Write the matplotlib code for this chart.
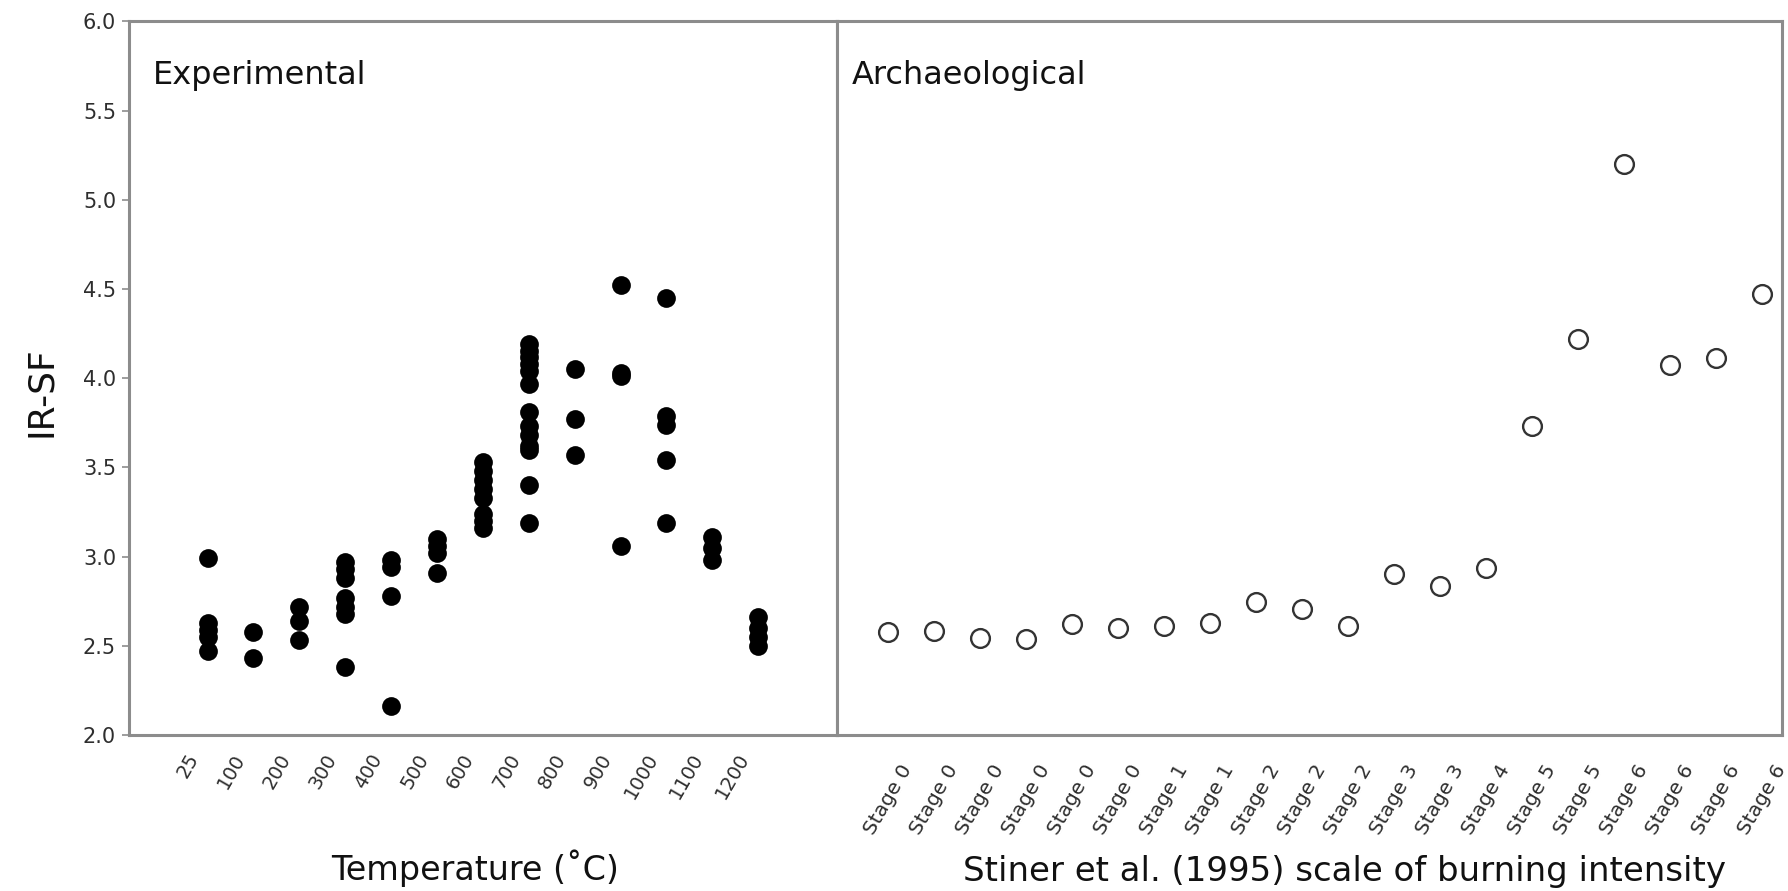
import matplotlib
matplotlib.use('Agg')
import matplotlib.pyplot as plt
from matplotlib.transforms import ScaledTranslation

plt.rcParams['font.family'] = ['DejaVu Sans']

# experimental samples: IR-SF for each firing temperature
temps = ['25', '100', '200', '300', '400', '500', '600',
         '700', '800', '900', '1000', '1100', '1200']
exp_values = [
    [2.99, 2.63, 2.59, 2.55, 2.47],
    [2.58, 2.43],
    [2.72, 2.64, 2.53],
    [2.97, 2.93, 2.88, 2.77, 2.72, 2.68, 2.38],
    [2.98, 2.94, 2.78, 2.16],
    [3.10, 3.06, 3.02, 2.91],
    [3.53, 3.48, 3.43, 3.38, 3.33, 3.24, 3.20, 3.16],
    [4.19, 4.15, 4.12, 4.08, 4.04, 3.97, 3.81, 3.73, 3.68, 3.62, 3.60, 3.40, 3.19],
    [4.05, 3.77, 3.57],
    [4.52, 4.03, 4.01, 3.06],
    [4.45, 3.79, 3.74, 3.54, 3.19],
    [3.11, 3.05, 2.98],
    [2.66, 2.60, 2.55, 2.50],
]

# archaeological samples
stages = ['Stage 0', 'Stage 0', 'Stage 0', 'Stage 0', 'Stage 0', 'Stage 0',
          'Stage 1', 'Stage 1', 'Stage 2', 'Stage 2', 'Stage 2',
          'Stage 3', 'Stage 3', 'Stage 4', 'Stage 5', 'Stage 5',
          'Stage 6', 'Stage 6', 'Stage 6', 'Stage 6']
arch_irsf = [2.58, 2.585, 2.545, 2.54, 2.62, 2.60, 2.61, 2.625, 2.745, 2.705,
             2.61, 2.90, 2.835, 2.935, 3.73, 4.22, 5.20, 4.075, 4.115, 4.47]

spine_col = '#8c8c8c'
tick_col = '#2e2e2e'

fig = plt.figure(figsize=(17.88, 8.91), dpi=100)
ax1 = fig.add_axes([0.0719, 0.1751, 0.4680 - 0.0719, 0.9759 - 0.1751])
ax2 = fig.add_axes([0.4680, 0.1751, 0.9965 - 0.4680, 0.9759 - 0.1751])

for i, vals in enumerate(exp_values):
    ax1.plot([i] * len(vals), vals, 'o', color='black', ms=13.5, mew=0)

ax2.plot(range(len(arch_irsf)), arch_irsf, 'o', mfc='white', mec='#333333',
         ms=13.5, mew=1.7)

for ax in (ax1, ax2):
    ax.set_ylim(2.0, 6.0)
    for s in ax.spines.values():
        s.set_color(spine_col)
        s.set_linewidth(2.2)
    ax.tick_params(axis='x', length=0, colors=tick_col)

ax1.set_xlim(-1.72, 13.71)
ax2.set_xlim(-1.12, 19.435)

ax1.set_yticks([2.0, 2.5, 3.0, 3.5, 4.0, 4.5, 5.0, 5.5, 6.0])
ax1.set_yticklabels(['2.0', '2.5', '3.0', '3.5', '4.0', '4.5', '5.0', '5.5', '6.0'])
ax1.tick_params(axis='y', length=5, width=1.2, color=spine_col,
                labelcolor=tick_col, labelsize=15, pad=4)
ax2.set_yticks([])

ax1.set_xticks(range(len(temps)))
ax1.set_xticklabels(temps, rotation=60, ha='right', va='top', fontsize=14)
ax1.tick_params(axis='x', pad=11)
shift = ScaledTranslation(-5 / 100, 0, fig.dpi_scale_trans)
for lab in ax1.get_xticklabels():
    lab.set_transform(lab.get_transform() + shift)

ax2.set_xticks(range(len(stages)))
ax2.set_xticklabels(stages, rotation=60, ha='center', va='top', fontsize=14.5)
ax2.tick_params(axis='x', pad=19)

ax1.text(0.0346, 0.913, 'Experimental', transform=ax1.transAxes,
         fontsize=23, va='baseline', ha='left', color='#111111')
ax2.text(0.0159, 0.913, 'Archaeological', transform=ax2.transAxes,
         fontsize=23, va='baseline', ha='left', color='#111111')

fig.text(0.0229, 0.561, 'IR-SF', rotation=90, ha='center', va='center',
         fontsize=26, color='#111111')
fig.text(0.2657, 0.0125, 'Temperature (\u02daC)', ha='center', va='baseline',
         fontsize=24, color='#111111')
fig.text(0.752, 0.0115, 'Stiner et al. (1995) scale of burning intensity',
         ha='center', va='baseline', fontsize=24.5, color='#111111')

fig.savefig('out.png', dpi=100)
